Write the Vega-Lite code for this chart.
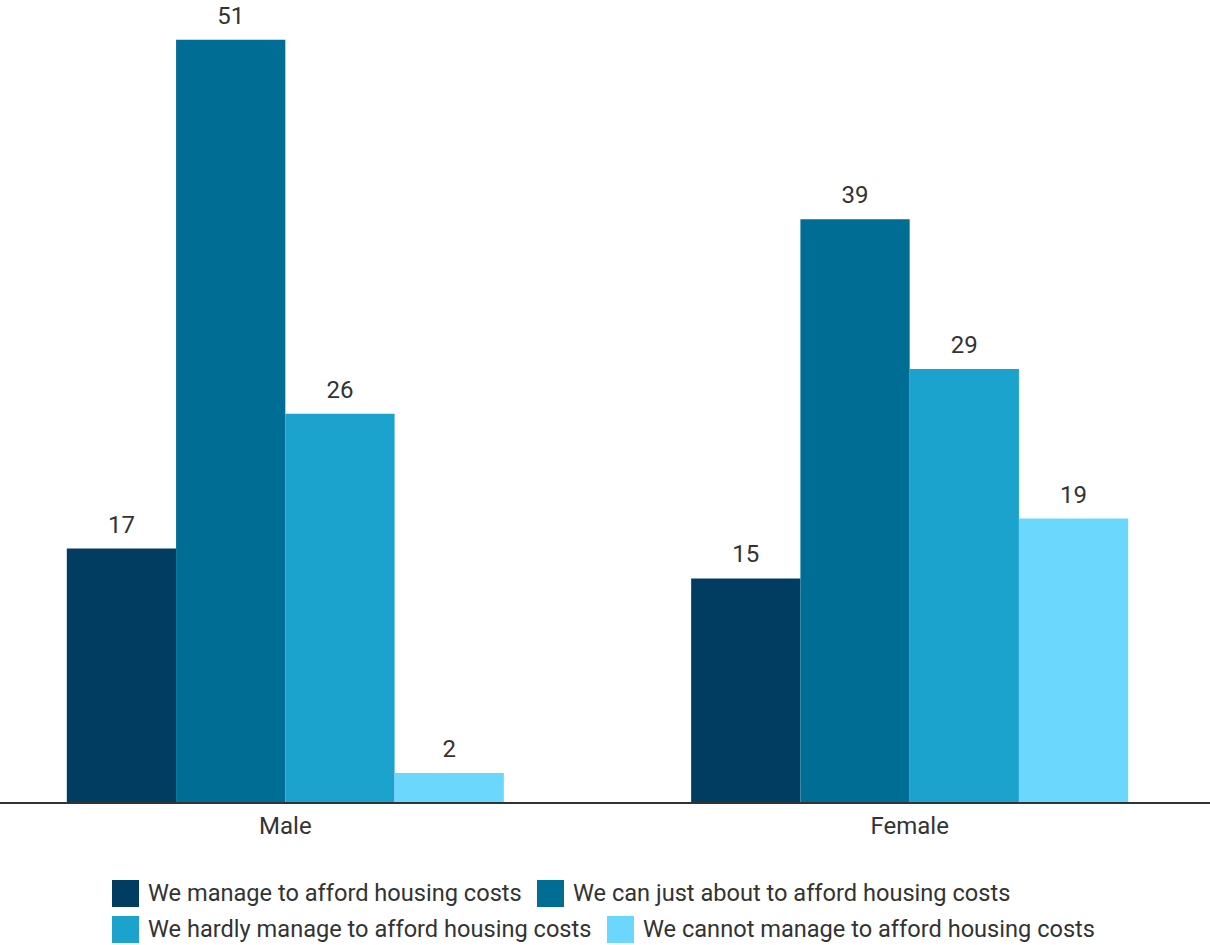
{
  "$schema": "https://vega.github.io/schema/vega-lite/v6.json",
  "width": 1210,
  "height": 803,
  "autosize": {"type": "none"},
  "padding": {"top": 0, "left": 0, "right": 0, "bottom": 142},
  "background": "white",
  "config": {"view": {"stroke": null}, "font": "Roboto"},
  "data": {
    "values": [
      {"gender": "Male", "cat": "We manage to afford housing costs", "value": 17},
      {"gender": "Male", "cat": "We can just about to afford housing costs", "value": 51},
      {"gender": "Male", "cat": "We hardly manage to afford housing costs", "value": 26},
      {"gender": "Male", "cat": "We cannot manage to afford housing costs", "value": 2},
      {"gender": "Female", "cat": "We manage to afford housing costs", "value": 15},
      {"gender": "Female", "cat": "We can just about to afford housing costs", "value": 39},
      {"gender": "Female", "cat": "We hardly manage to afford housing costs", "value": 29},
      {"gender": "Female", "cat": "We cannot manage to afford housing costs", "value": 19}
    ]
  },
  "layer": [
    {
      "transform": [{"filter": {"field": "cat", "oneOf": ["We manage to afford housing costs", "We can just about to afford housing costs"]}}],
      "mark": {"type": "bar"},
      "encoding": {
        "x": {"field": "gender", "type": "nominal", "sort": ["Male", "Female"],
          "scale": {"domain": ["Male", "Female"], "range": [0, 1195], "paddingInner": 0.3, "paddingOuter": 0.107},
          "axis": {"title": null, "domain": false, "ticks": false, "labelAngle": 0, "labelFontSize": 24, "labelColor": "#333333", "labelPadding": 11}},
        "xOffset": {"field": "cat", "type": "nominal", "scale": {"domain": ["We manage to afford housing costs", "We can just about to afford housing costs", "We hardly manage to afford housing costs", "We cannot manage to afford housing costs"], "paddingInner": 0, "paddingOuter": 0}},
        "y": {"field": "value", "type": "quantitative", "scale": {"domain": [0, 53.65], "nice": false}, "axis": null},
        "color": {"field": "cat", "type": "nominal",
          "scale": {"domain": ["We manage to afford housing costs", "We can just about to afford housing costs"], "range": ["#003d60", "#006d95"]},
          "legend": {"title": null, "orient": "none", "legendX": 112, "legendY": 880, "direction": "horizontal",
            "symbolType": "square", "symbolSize": 729, "symbolStrokeWidth": 0, "labelFontSize": 23.6, "labelColor": "#333333", "labelOffset": 9, "labelLimit": 600, "columnPadding": 15, "padding": 0}}
      }
    },
    {
      "transform": [{"filter": {"field": "cat", "oneOf": ["We hardly manage to afford housing costs", "We cannot manage to afford housing costs"]}}],
      "mark": {"type": "bar"},
      "encoding": {
        "x": {"field": "gender", "type": "nominal", "sort": ["Male", "Female"]},
        "xOffset": {"field": "cat", "type": "nominal"},
        "y": {"field": "value", "type": "quantitative"},
        "fill": {"field": "cat", "type": "nominal",
          "scale": {"domain": ["We hardly manage to afford housing costs", "We cannot manage to afford housing costs"], "range": ["#1ba3cd", "#6bd7fd"]},
          "legend": {"title": null, "orient": "none", "legendX": 112, "legendY": 916, "direction": "horizontal",
            "symbolType": "square", "symbolSize": 729, "symbolStrokeWidth": 0, "labelFontSize": 23.6, "labelColor": "#333333", "labelOffset": 9, "labelLimit": 600, "columnPadding": 15, "padding": 0}}
      }
    },
    {
      "mark": {"type": "text", "baseline": "bottom", "dy": -11, "fontSize": 24, "color": "#333333"},
      "encoding": {
        "x": {"field": "gender", "type": "nominal", "sort": ["Male", "Female"]},
        "xOffset": {"field": "cat", "type": "nominal"},
        "y": {"field": "value", "type": "quantitative"},
        "text": {"field": "value", "type": "quantitative"}
      }
    },
    {
      "data": {"values": [{"v": 0}]},
      "mark": {"type": "rule", "color": "#333333", "strokeWidth": 2},
      "encoding": {"y": {"field": "v", "type": "quantitative"}}
    }
  ]
}
